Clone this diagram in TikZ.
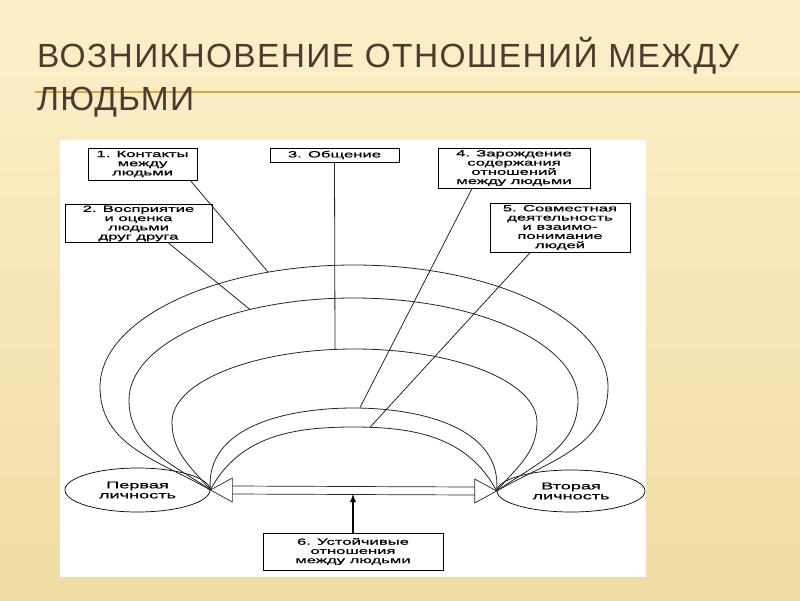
\documentclass[tikz,border=0pt]{standalone}
\usepackage{fontspec}
\setmainfont{Liberation Sans}
\newfontfamily\headfont[LetterSpace=4]{Liberation Sans}
\newfontfamily\scanfont[FakeStretch=1.85,FakeBold=0.8]{Liberation Sans}
\usetikzlibrary{shapes.geometric,arrows,calc}
\definecolor{paper}{HTML}{FCF0C9}
\definecolor{paperdark}{HTML}{F0DCA4}
\definecolor{headcol}{HTML}{4A3C31}
\definecolor{rulecol}{HTML}{E8A442}
\tikzset{stagebox/.style={draw, line width=0.9pt, inner sep=0pt, align=center, fill=white,
  font=\scanfont\fontsize{9}{9.2}\selectfont}}
\tikzset{person/.style={ellipse, draw, line width=0.7pt, inner sep=0pt, align=center,
  font=\scanfont\fontsize{9.8}{10}\selectfont}}
\tikzset{arcline/.style={line width=0.8pt, black!85}}
\tikzset{link/.style={line width=0.8pt, black!85}}
\tikzset{bar/.style={line width=0.7pt, black!85}}

\begin{document}
\begin{tikzpicture}[x=1pt,y=1pt]
\useasboundingbox (0,0) rectangle (800,-600);
\shade[top color=paper, bottom color=paperdark] (0,0) rectangle (800,-600);

% heading
\draw[rulecol, line width=2pt] (35,-92) -- (800,-92);
\node (t1) at (37,-67)[anchor=base west, headcol, font=\headfont\fontsize{33.5}{40}\selectfont, inner sep=0pt]{ВОЗНИКНОВЕНИЕ ОТНОШЕНИЙ МЕЖДУ};
\node (t2) at (37,-110)[anchor=base west, headcol, font=\headfont\fontsize{33.5}{40}\selectfont, inner sep=0pt]{ЛЮДЬМИ};

% the scanned scheme
\fill[white] (60,-140) rectangle (646,-577);

\node (b1) at (142.5,-164)[stagebox, minimum width=109pt, minimum height=32pt]{1. Контакты\\между\\людьми};
\node (b2) at (138.5,-223.5)[stagebox, minimum width=147pt, minimum height=38pt]{2. Восприятие\\и оценка\\людьми\\друг друга};
\node (b3) at (334.5,-155)[stagebox, minimum width=129pt, minimum height=14pt]{3. Общение};
\node (b4) at (514,-168)[stagebox, minimum width=152pt, minimum height=40pt]{4. Зарождение\\содержания\\отношений\\между людьми};
\node (b5) at (560,-227.5)[stagebox, minimum width=140pt, minimum height=49pt]{5. Совместная\\деятельность\\и взаимо-\\понимание\\людей};
\node (b6) at (353,-551.5)[stagebox, minimum width=180pt, minimum height=37pt]{6. Устойчивые\\отношения\\между людьми};

\node (p1) at (137.5,-490)[person, minimum width=145pt, minimum height=44pt]{Первая\\личность};
\node (p2) at (571,-491)[person, minimum width=148pt, minimum height=42pt]{Вторая\\личность};

\coordinate (fl) at (p1.east);
\coordinate (fr) at (p2.west);

% the five arcs between the two persons
\draw[arcline] (fl) to[out=150,in=-90] (100,-387) arc[start angle=180,end angle=0,x radius=254,y radius=122] to[out=-90,in=30] (fr);
\draw[arcline] (fl) to[out=145,in=-90] (129,-400) arc[start angle=180,end angle=0,x radius=224.5,y radius=102] to[out=-90,in=35] (fr);
\draw[arcline] (fl) to[out=130,in=-90] (172,-422) arc[start angle=180,end angle=0,x radius=182.5,y radius=73] to[out=-90,in=50] (fr);
\draw[arcline] (fl) to[out=95,in=180] (353.5,-408) to[out=0,in=85] (fr);
\draw[arcline] (fl) to[out=62,in=180] (353.5,-427) to[out=0,in=118] (fr);

% where the labels meet the arcs
\coordinate (a1) at (268,-272);
\coordinate (a2) at (250,-309.5);
\coordinate (a3) at (335,-349);
\coordinate (a4) at (360,-407.5);
\coordinate (a5) at (370,-427.3);

\draw[link] (b1.-19) -- (a1);
\draw[link] (b2.-33) -- (a2);
\draw[link] (b3.south) -- (a3);
\draw[link] (b4.206) -- (a4);
\draw[link] (b5.220) -- (a5);

% double arrow
\coordinate (su) at ($(fl)+(22,4)$);
\coordinate (sl) at ($(fl)+(22,-4)$);
\draw[bar] (fl) -- ++(22,12) -- ++(0,-24) -- cycle;
\draw[bar] (fr) -- ++(-22,12) -- ++(0,-24) -- cycle;
\draw[bar] (su) -- ($(fr)+(-22,4)$);
\draw[bar] (sl) -- ($(fr)+(-22,-4)$);

\draw[line width=1.8pt, -latex] (b6.north) -- (b6.north |- sl);
\end{tikzpicture}
\end{document}
